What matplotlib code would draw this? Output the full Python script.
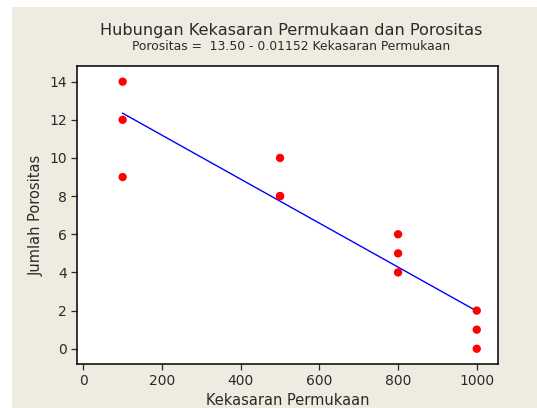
import numpy as np
import matplotlib
matplotlib.use("Agg")
import matplotlib.pyplot as plt
from matplotlib.patches import Rectangle

# Data
kekasaran = [100, 100, 100, 500, 500, 500, 800, 800, 800, 1000, 1000, 1000]
porositas = [14, 12, 9, 10, 8, 8, 6, 5, 4, 2, 1, 0]
x_ticks = [0, 200, 400, 600, 800, 1000]
y_ticks = [0, 2, 4, 6, 8, 10, 12, 14]

# Least squares fit (as in the subtitle)
slope, intercept = np.polyfit(kekasaran, porositas, 1)
line_x = np.linspace(min(kekasaran), max(kekasaran), 50)
line_y = intercept + slope * line_x

BG = "#eeebe1"
TXT = "#2a2a2a"

fig = plt.figure(figsize=(5.37, 4.08), dpi=100, facecolor="white")
fig.patches.append(Rectangle((12 / 537, 0), 1 - 12 / 537, 1 - 7 / 408,
                             transform=fig.transFigure, facecolor=BG,
                             edgecolor="none", zorder=-10))

ax = fig.add_axes([77 / 537, 1 - 364 / 408, 421 / 537, 298 / 408])
ax.set_facecolor("white")
ax.plot(line_x, line_y, color="#0000ff", linewidth=1.0, zorder=2)
ax.scatter(kekasaran, porositas, s=36, color="#ff0000", edgecolors="none", zorder=3)

ax.set_xlim(-16, 1054)
ax.set_ylim(-0.8, 14.82)
ax.set_xticks(x_ticks)
ax.set_yticks(y_ticks)
ax.tick_params(direction="out", length=4, width=0.9, color=TXT, labelcolor=TXT,
               labelsize=10)
for s in ax.spines.values():
    s.set_linewidth(1.1)
    s.set_color("black")

ax.set_xlabel("Kekasaran Permukaan", fontsize=10.5, color=TXT, labelpad=3)
ax.set_ylabel("Jumlah Porositas", fontsize=10.5, color=TXT, labelpad=4)

fig.text(0.542, 1 - 30 / 408, "Hubungan Kekasaran Permukaan dan Porositas",
         ha="center", va="center", fontsize=11.6, color=TXT)
fig.text(0.542, 1 - 47 / 408,
         "Porositas =  %.2f - %.5f Kekasaran Permukaan" % (intercept, -slope),
         ha="center", va="center", fontsize=8.9, color=TXT)

fig.savefig("out.png", dpi=100, facecolor=fig.get_facecolor())
